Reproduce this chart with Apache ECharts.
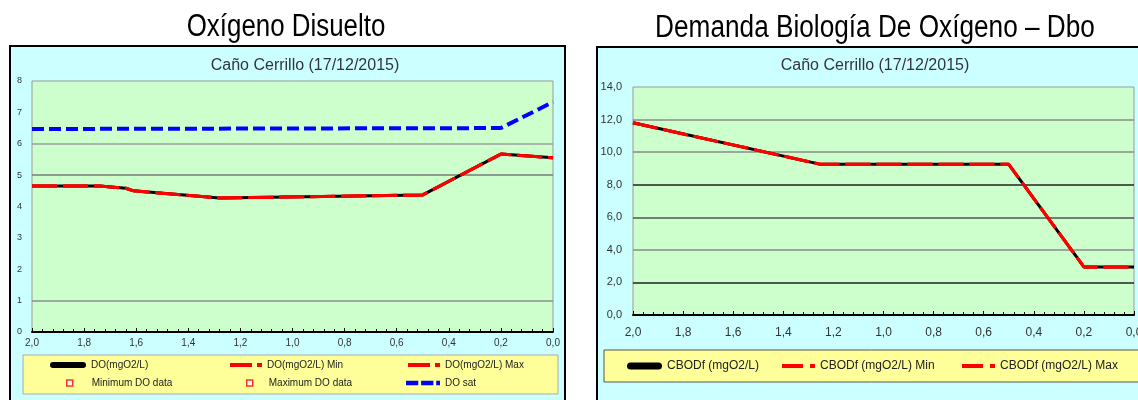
<!DOCTYPE html>
<html><head><meta charset="utf-8">
<script src="https://cdn.jsdelivr.net/npm/echarts@6/dist/echarts.min.js"></script>
<style>html,body{margin:0;padding:0;background:#fff}#c{width:1138px;height:400px}</style>
</head><body><div id="c"></div>
<script>
// ---- texts ----
const mainTitles = ['Oxígeno Disuelto', 'Demanda Biología De Oxígeno – Dbo'];
const subTitles = ['Caño Cerrillo (17/12/2015)', 'Caño Cerrillo (17/12/2015)'];
const doNames = ['DO(mgO2/L)', 'DO(mgO2/L) Min', 'DO(mgO2/L) Max', 'Minimum DO data', 'Maximum DO data', 'DO sat'];
const bodNames = ['CBODf (mgO2/L)', 'CBODf (mgO2/L) Min', 'CBODf (mgO2/L) Max'];

// ---- data: distance (km) ----
const doDistance = [2.0, 1.74, 1.64, 1.61, 1.28, 0.5, 0.2, 0.0];
const doValues   = [4.65, 4.65, 4.58, 4.5, 4.27, 4.37, 5.67, 5.55];
const doMinValues = [4.65, 4.65, 4.58, 4.5, 4.27, 4.37, 5.67, 5.55];
const doMaxValues = [4.65, 4.65, 4.58, 4.5, 4.27, 4.37, 5.67, 5.55];
const doSatDistance = [2.0, 0.2, 0.0];
const doSatValues   = [6.47, 6.5, 7.33];
const minDOData = [];
const maxDOData = [];

const bodDistance = [2.0, 1.25, 0.5, 0.2, 0.0];
const bodValues    = [11.8, 9.25, 9.25, 2.95, 2.95];
const bodMinValues = [11.8, 9.25, 9.25, 2.95, 2.95];
const bodMaxValues = [11.8, 9.25, 9.25, 2.95, 2.95];

// ---- axes ----
const xRange = [0, 2, 0.2];
const doYRange = [0, 8, 1];
const bodYRange = [0, 14, 2];

const zip = (xs, ys) => xs.map((x, i) => [x, ys[i]]);
const comma = v => v.toFixed(1).replace('.', ',');
const FONT = "'Liberation Sans', Arial, sans-serif";
const RED = '#ff0000';

function xAxisOf(grid, fs, margin) {
  return {
    gridIndex: grid, type: 'value', min: xRange[0], max: xRange[1], interval: xRange[2], inverse: true,
    axisLine: {show: true, onZero: false, lineStyle: {color: '#000', width: 2}},
    axisTick: {show: true, inside: true, length: 4, lineStyle: {color: '#000', width: 1}},
    minorTick: {show: true, splitNumber: 5, length: 3, lineStyle: {color: '#000', width: 1}},
    splitLine: {show: false},
    axisLabel: {fontSize: fs, color: '#333', margin: margin, fontFamily: FONT, formatter: comma}
  };
}

const chart = echarts.init(document.getElementById('c'));
const leg = (left, top, name, w, h, icon, color, fs, extra) => ({
  left: left, top: top, padding: 0, itemGap: 0, itemWidth: w, itemHeight: h, selectedMode: false,
  data: [{name: name, icon: icon, itemStyle: Object.assign({color: color, borderWidth: 0}, (extra && extra.itemStyle) || {})}],
  textStyle: Object.assign({fontSize: fs, lineHeight: fs + 2, color: '#222', fontFamily: FONT}, (extra && extra.textStyle) || {})
});

const redDashL = 'path://M0,0H22V4H0Z M27,0H32V4H27Z';
const redDashR = 'path://M0,0H21V4H0Z M28,0H33V4H28Z';
const blackL = 'path://M3,0H33A3,3 0 0 1 33,6H3A3,3 0 0 1 3,0Z';
const blackR = 'path://M3.5,0H31.5A3.5,3.5 0 0 1 31.5,7H3.5A3.5,3.5 0 0 1 3.5,0Z';
const blueDash = 'path://M0,0H13V5H0Z M16,0H29V5H16Z M32,0H36V5H32Z';

chart.setOption({
  animation: false,
  graphic: [
    {type: 'rect', z: -10, shape: {x: 10, y: 46, width: 555, height: 360}, style: {fill: '#ccffff', stroke: '#000', lineWidth: 2}},
    {type: 'rect', z: -10, shape: {x: 597, y: 47, width: 560, height: 360}, style: {fill: '#ccffff', stroke: '#000', lineWidth: 2}},
    {type: 'rect', z: -5, shape: {x: 23, y: 355, width: 535, height: 39}, style: {fill: '#ffff99', stroke: '#aaa', lineWidth: 1}},
    {type: 'rect', z: -5, shape: {x: 604, y: 350, width: 550, height: 32}, style: {fill: '#ffff99', stroke: '#555', lineWidth: 1}},
    {type: 'text', z: 10, x: 286, y: 27, scaleX: 0.835, style: {text: mainTitles[0], align: 'center', verticalAlign: 'middle', fontSize: 31, fontFamily: FONT, fill: '#000'}},
    {type: 'text', z: 10, x: 875, y: 28, scaleX: 0.845, style: {text: mainTitles[1], align: 'center', verticalAlign: 'middle', fontSize: 31, fontFamily: FONT, fill: '#000'}},
    {type: 'text', z: 10, x: 305, y: 66, style: {text: subTitles[0], align: 'center', verticalAlign: 'middle', fontSize: 16, fontFamily: FONT, fill: '#333340'}},
    {type: 'text', z: 10, x: 875, y: 66, style: {text: subTitles[1], align: 'center', verticalAlign: 'middle', fontSize: 16, fontFamily: FONT, fill: '#333340'}}
  ],
  grid: [
    {left: 32, top: 81, right: 1138 - 553, bottom: 400 - 332, show: true, backgroundColor: '#ccffcc', borderColor: '#999', borderWidth: 1, outerBoundsMode: 'none'},
    {left: 633, top: 87, right: 1138 - 1134, bottom: 400 - 315, show: true, backgroundColor: '#ccffcc', borderColor: '#999', borderWidth: 1, outerBoundsMode: 'none'}
  ],
  xAxis: [xAxisOf(0, 10, 6), xAxisOf(1, 12, 12)],
  yAxis: [
    {gridIndex: 0, type: 'value', min: doYRange[0], max: doYRange[1], interval: doYRange[2],
     axisLine: {show: false}, axisTick: {show: false},
     splitLine: {show: true, lineStyle: {width: 1.5, color: ['rgba(0,0,0,0)', '#8c8c8c', 'rgba(0,0,0,0)', 'rgba(0,0,0,0)', 'rgba(0,0,0,0)', '#7a7a7a', '#9c9c9c', 'rgba(0,0,0,0)', 'rgba(0,0,0,0)']}},
     axisLabel: {fontSize: 9, color: '#333', margin: 10, fontFamily: FONT}},
    {gridIndex: 1, type: 'value', min: bodYRange[0], max: bodYRange[1], interval: bodYRange[2],
     axisLine: {show: false}, axisTick: {show: false},
     splitLine: {show: true, lineStyle: {width: 1.5, color: ['rgba(0,0,0,0)', '#222', '#8a8a8a', '#555', '#222', '#8a8a8a', '#8a8a8a', 'rgba(0,0,0,0)']}},
     axisLabel: {fontSize: 11, color: '#333', margin: 11, fontFamily: FONT, formatter: comma}}
  ],
  legend: [
    leg(50, 359, doNames[0], 36, 6, blackL, '#000', 10),
    leg(230, 359, doNames[1], 32, 4, redDashL, RED, 10),
    leg(408, 359, doNames[2], 32, 4, redDashL, RED, 10),
    leg(66, 377, doNames[3], 6, 6, 'rect', '#fff', 10, {itemStyle: {borderColor: RED, borderWidth: 1.5}, textStyle: {padding: [0, 0, 0, 14]}}),
    leg(246, 377, doNames[4], 6, 6, 'rect', '#fff', 10, {itemStyle: {borderColor: RED, borderWidth: 1.5}, textStyle: {padding: [0, 0, 0, 11]}}),
    leg(406, 377, doNames[5], 34, 5, blueDash, '#0000ff', 10),
    leg(627, 359, bodNames[0], 35, 7, blackR, '#000', 12),
    leg(782, 359, bodNames[1], 33, 4, redDashR, RED, 12),
    leg(962, 359, bodNames[2], 33, 4, redDashR, RED, 12)
  ],
  series: [
    {name: doNames[0], type: 'line', xAxisIndex: 0, yAxisIndex: 0, data: zip(doDistance, doValues), symbol: 'none', color: '#000', lineStyle: {color: '#000', width: 3}, z: 3},
    {name: doNames[1], type: 'line', xAxisIndex: 0, yAxisIndex: 0, data: zip(doDistance, doMinValues), symbol: 'none', color: RED, lineStyle: {color: RED, width: 3, type: [25, 6]}, z: 4},
    {name: doNames[2], type: 'line', xAxisIndex: 0, yAxisIndex: 0, data: zip(doDistance, doMaxValues), symbol: 'none', color: RED, lineStyle: {color: RED, width: 3, type: [25, 6]}, z: 5},
    {name: doNames[3], type: 'scatter', xAxisIndex: 0, yAxisIndex: 0, data: minDOData, symbol: 'rect', symbolSize: 6, itemStyle: {color: '#fff', borderColor: RED}},
    {name: doNames[4], type: 'scatter', xAxisIndex: 0, yAxisIndex: 0, data: maxDOData, symbol: 'rect', symbolSize: 6, itemStyle: {color: '#fff', borderColor: RED}},
    {name: doNames[5], type: 'line', xAxisIndex: 0, yAxisIndex: 0, data: zip(doSatDistance, doSatValues), symbol: 'none', color: '#0000ff', lineStyle: {color: '#0000ff', width: 4, type: [12, 5]}, z: 3},
    {name: bodNames[0], type: 'line', xAxisIndex: 1, yAxisIndex: 1, data: zip(bodDistance, bodValues), symbol: 'none', color: '#000', lineStyle: {color: '#000', width: 3}, z: 3},
    {name: bodNames[1], type: 'line', xAxisIndex: 1, yAxisIndex: 1, data: zip(bodDistance, bodMinValues), symbol: 'none', color: RED, lineStyle: {color: RED, width: 3, type: [25, 6]}, z: 4},
    {name: bodNames[2], type: 'line', xAxisIndex: 1, yAxisIndex: 1, data: zip(bodDistance, bodMaxValues), symbol: 'none', color: RED, lineStyle: {color: RED, width: 3, type: [25, 6]}, z: 5}
  ]
});
</script></body></html>
